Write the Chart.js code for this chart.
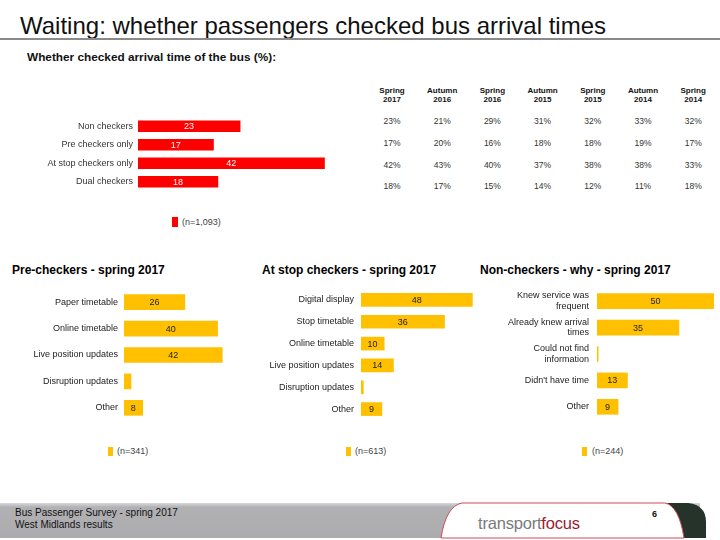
<!DOCTYPE html>
<html><head><meta charset="utf-8">
<script src="https://cdn.jsdelivr.net/npm/chart.js@4"></script>
<style>
html,body{margin:0;padding:0;}
body{width:720px;height:540px;position:relative;overflow:hidden;background:#fff;font-family:"Liberation Sans",Arial,sans-serif;}
.abs{position:absolute;white-space:nowrap;}
canvas{position:absolute;}
.sect{font-weight:bold;font-size:12px;color:#000;}
.leg{font-size:9px;color:#444;}
.sw{position:absolute;}
.hdr{font-weight:bold;font-size:8px;color:#111;text-align:center;line-height:9px;}
.val{font-size:8.5px;color:#333;text-align:center;}
</style>
</head>
<body>
<div class="abs" style="left:20px;top:12px;font-size:24px;color:#111;line-height:28px;">Waiting: whether passengers checked bus arrival times</div>
<div class="abs" style="left:0;top:38px;width:720px;height:2px;background:#8a8a8a;"></div>
<div class="abs" style="left:27px;top:50px;font-size:11.8px;font-weight:bold;color:#111;">Whether checked arrival time of the bus (%):</div>

<canvas id="cTop" width="360" height="74" style="left:0;top:117px;"></canvas>
<div class="sw" style="left:172px;top:217px;width:6px;height:10px;background:#ff0000;"></div>
<div class="abs leg" style="left:182px;top:217px;">(n=1,093)</div>

<div id="table"></div>

<div class="abs sect" style="left:12px;top:263px;">Pre-checkers - spring 2017</div>
<div class="abs sect" style="left:262px;top:263px;">At stop checkers - spring 2017</div>
<div class="abs sect" style="left:480px;top:263px;">Non-checkers - why - spring 2017</div>

<canvas id="cPre" width="241" height="132" style="left:0;top:289px;"></canvas>
<canvas id="cStop" width="237" height="131" style="left:240px;top:289px;"></canvas>
<canvas id="cNon" width="239" height="132" style="left:475px;top:288px;"></canvas>

<div class="sw" style="left:108px;top:447px;width:5px;height:9px;background:#ffc000;"></div>
<div class="abs leg" style="left:117px;top:446px;">(n=341)</div>
<div class="sw" style="left:346px;top:447px;width:5px;height:9px;background:#ffc000;"></div>
<div class="abs leg" style="left:355px;top:446px;">(n=613)</div>
<div class="sw" style="left:582px;top:447px;width:5px;height:9px;background:#ffc000;"></div>
<div class="abs leg" style="left:592px;top:446px;">(n=244)</div>

<svg class="abs" style="left:0;top:498px;" width="720" height="42" viewBox="0 498 720 42">
  <defs>
    <linearGradient id="gg" x1="0" y1="0" x2="0" y2="1">
      <stop offset="0" stop-color="#d8d8da"/>
      <stop offset="0.12" stop-color="#b1b1b4"/>
      <stop offset="1" stop-color="#acacaf"/>
    </linearGradient>
  </defs>
  <rect x="0" y="503" width="700" height="35" fill="url(#gg)"/>
  <path d="M667,503 L688,503 Q706,505 706,522 L706,538 L684,538 Q680,512 667,503 Z" fill="#26332a"/>
  <path d="M441,538 Q446,506 462,503 L665,503 Q679,506 684,538 Z" fill="#ffffff" stroke="#cf4a58" stroke-width="1"/>
</svg>
<div class="abs" style="left:15px;top:507px;font-size:10px;color:#111;line-height:12px;">Bus Passenger Survey - spring 2017<br>West Midlands results</div>
<div class="abs" style="left:478px;top:514px;font-size:16.5px;letter-spacing:-0.2px;"><span style="color:#7a7a7a;">transport</span><span style="color:#9a1c30;">focus</span></div>
<div class="abs" style="left:652px;top:509px;font-size:9px;font-weight:bold;color:#111;">6</div>

<script>
// ---- data ----
const checkCategories = ['Non checkers', 'Pre checkers only', 'At stop checkers only', 'Dual checkers'];
const checkValues = [23, 17, 42, 18];

const waveLabels = [['Spring', '2017'], ['Autumn', '2016'], ['Spring', '2016'], ['Autumn', '2015'], ['Spring', '2015'], ['Autumn', '2014'], ['Spring', '2014']];
const waveNonCheckers = [23, 21, 29, 31, 32, 33, 32];
const wavePreCheckers = [17, 20, 16, 18, 18, 19, 17];
const waveAtStop = [42, 43, 40, 37, 38, 38, 33];
const waveDual = [18, 17, 15, 14, 12, 11, 18];

const preCategories = ['Paper timetable', 'Online timetable', 'Live position updates', 'Disruption updates', 'Other'];
const preValues = [26, 40, 42, 3, 8];

const stopCategories = ['Digital display', 'Stop timetable', 'Online timetable', 'Live position updates', 'Disruption updates', 'Other'];
const stopValues = [48, 36, 10, 14, 1, 9];

const nonCategories = [['Knew service was', 'frequent'], ['Already knew arrival', 'times'], ['Could not find', 'information'], "Didn't have time", 'Other'];
const nonValues = [50, 35, 0.5, 13, 9];

// ---- table ----
(function () {
  const t = document.getElementById('table');
  const rows = [waveNonCheckers, wavePreCheckers, waveAtStop, waveDual];
  const rowY = [122, 144, 166, 187];
  waveLabels.forEach((lab, i) => {
    const cx = 392 + 50.2 * i;
    const h = document.createElement('div');
    h.className = 'abs hdr';
    h.style.left = (cx - 25) + 'px';
    h.style.width = '50px';
    h.style.top = '86px';
    h.innerHTML = lab.join('<br>');
    t.appendChild(h);
    rows.forEach((r, j) => {
      const d = document.createElement('div');
      d.className = 'abs val';
      d.style.left = (cx - 25) + 'px';
      d.style.width = '50px';
      d.style.top = (rowY[j] - 6) + 'px';
      d.textContent = r[i] + '%';
      t.appendChild(d);
    });
  });
})();

// ---- charts ----
const FONT = '"Liberation Sans", Arial, sans-serif';
const valueLabels = {
  id: 'valueLabels',
  afterDatasetsDraw(chart, args, opts) {
    const ctx = chart.ctx;
    const meta = chart.getDatasetMeta(0);
    const data = chart.data.datasets[0].data;
    ctx.save();
    ctx.font = '9px ' + FONT;
    ctx.fillStyle = opts.color;
    ctx.textAlign = 'center';
    ctx.textBaseline = 'middle';
    meta.data.forEach((bar, i) => {
      if (data[i] < 5) return;
      ctx.fillText(String(data[i]), (bar.x + bar.base) / 2, bar.y + 0.5);
    });
    ctx.restore();
  }
};

function makeBar(id, labels, values, color, o) {
  return new Chart(document.getElementById(id), {
    type: 'bar',
    data: { labels: labels, datasets: [{ data: values, backgroundColor: color, borderWidth: 0, barThickness: o.thick }] },
    options: {
      indexAxis: 'y',
      responsive: false,
      animation: false,
      layout: { padding: 0 },
      plugins: { legend: { display: false }, tooltip: { enabled: false }, valueLabels: { color: o.labelColor } },
      scales: {
        x: { display: false, min: 0, max: o.max },
        y: {
          afterFit(s) { s.width = o.axisW; s.paddingTop = 0; s.paddingBottom = 0; },
          grid: { display: false, drawTicks: false, tickLength: 0 },
          border: { display: false },
          ticks: { padding: o.pad, color: o.tickColor, autoSkip: false, font: { family: FONT, size: 9 } }
        }
      }
    },
    plugins: [valueLabels]
  });
}

makeBar('cTop', checkCategories, checkValues, '#ff0000', { thick: 11, max: 50, axisW: 138, pad: 5, labelColor: '#ffffff', tickColor: '#333333' });
makeBar('cPre', preCategories, preValues, '#ffc000', { thick: 15, max: 50, axisW: 124, pad: 6, labelColor: '#222222', tickColor: '#222222' });
makeBar('cStop', stopCategories, stopValues, '#ffc000', { thick: 13, max: 50, axisW: 121, pad: 7, labelColor: '#222222', tickColor: '#222222' });
makeBar('cNon', nonCategories, nonValues, '#ffc000', { thick: 15, max: 50, axisW: 122, pad: 8, labelColor: '#222222', tickColor: '#222222' });
</script>
</body></html>
